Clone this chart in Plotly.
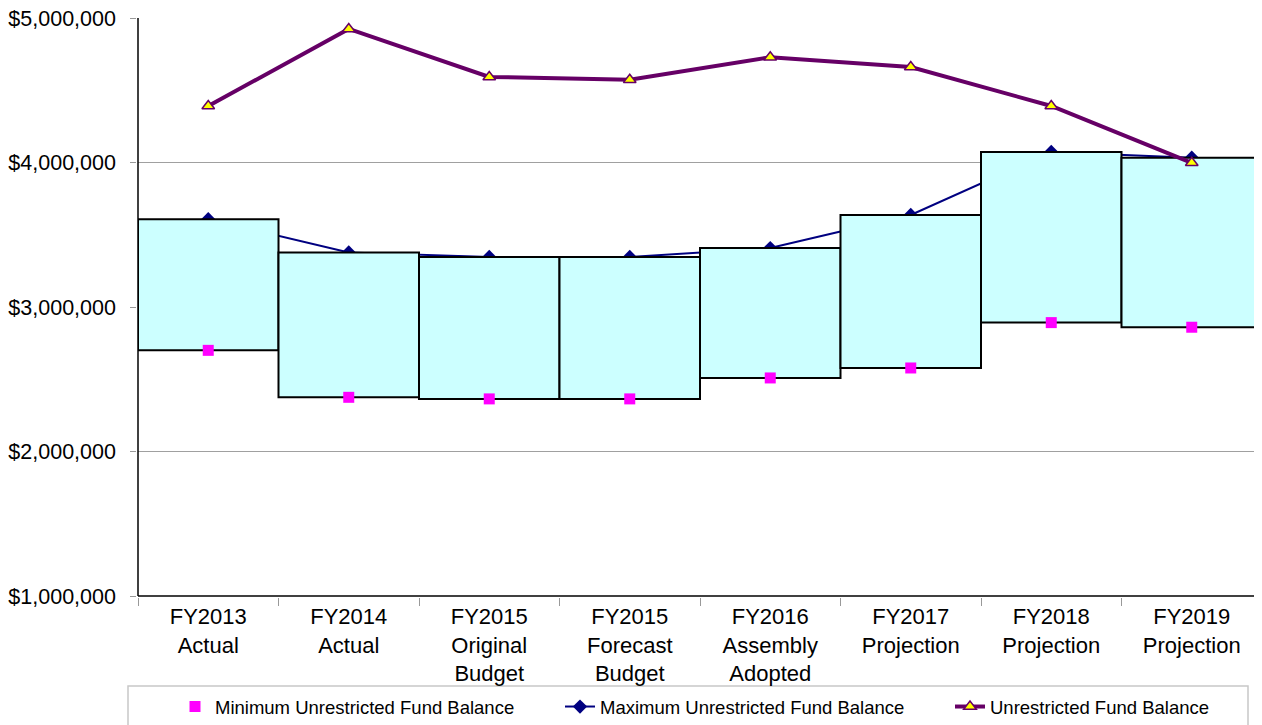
import plotly.graph_objects as go

categories = [
    "FY2013<br>Actual", "FY2014<br>Actual", "FY2015<br>Original<br>Budget",
    "FY2015<br>Forecast<br>Budget", "FY2016<br>Assembly<br>Adopted",
    "FY2017<br>Projection", "FY2018<br>Projection", "FY2019<br>Projection",
]
min_balance = [2700000, 2375000, 2364000, 2364000, 2509000, 2578000, 2892000, 2860000]
max_balance = [3608000, 3378000, 3346000, 3346000, 3408000, 3637000, 4073000, 4033000]
unrestricted = [4391000, 4924000, 4592000, 4573000, 4728000, 4661000, 4391000, 3998000]
y_ticks = [1000000, 2000000, 3000000, 4000000, 5000000]

font_main = "Liberation Sans, Arial, sans-serif"

fig = go.Figure()

fig.add_trace(go.Scatter(
    x=categories, y=max_balance, mode="lines+markers",
    name="Maximum Unrestricted Fund Balance",
    line=dict(color="#000080", width=2),
    marker=dict(symbol="diamond", size=11, color="#000080"),
    zorder=0, legend="legend2",
))

fig.add_trace(go.Bar(
    x=categories,
    y=[mx - mn for mx, mn in zip(max_balance, min_balance)],
    base=min_balance, width=1,
    marker=dict(color="#CCFFFF", line=dict(color="#000000", width=2)),
    showlegend=False, zorder=1,
))

fig.add_trace(go.Scatter(
    x=categories, y=min_balance, mode="markers",
    name="Minimum Unrestricted Fund Balance",
    marker=dict(symbol="square", size=11, color="#FF00FF"),
    zorder=2, legend="legend",
))

fig.add_trace(go.Scatter(
    x=categories, y=unrestricted, mode="lines+markers",
    name="Unrestricted Fund Balance",
    line=dict(color="#660066", width=4),
    marker=dict(symbol="triangle-up", size=11, color="#FFFF00",
                line=dict(color="#660066", width=1.5)),
    zorder=3, legend="legend3",
))

# page has an 8px body margin; figure sized to fill the rest of the window
OFF = 8
W, H = 1262 - OFF, 725 - OFF
plot_left, plot_top, plot_bottom, plot_right = 138, 18, 596, 1262
pw = plot_right - plot_left
ph = plot_bottom - plot_top

def px_x(x):
    return (x - plot_left) / pw

def px_y(y):
    return (plot_bottom - y) / ph

leg_common = dict(orientation="h", bgcolor="rgba(0,0,0,0)", borderwidth=0,
                  font=dict(family=font_main, size=18.5, color="#000000"),
                  xanchor="left", yanchor="middle", y=px_y(707))

fig.update_layout(
    width=W, height=H,
    margin=dict(l=plot_left - OFF, r=0, t=plot_top - OFF,
                b=725 - plot_bottom, autoexpand=False),
    paper_bgcolor="white", plot_bgcolor="white",
    font=dict(family=font_main, color="#000000"),
    barmode="overlay",
    showlegend=True,
    legend=dict(x=px_x(175), **leg_common),
    legend2=dict(x=px_x(560), **leg_common),
    legend3=dict(x=px_x(950), **leg_common),
    xaxis=dict(
        type="category", range=[-0.5, 7.5],
        showline=True, linecolor="#000000", linewidth=1.5,
        ticks="outside", tickson="boundaries", ticklen=8, tickcolor="#999999",
        tickfont=dict(size=22, family=font_main),
        showgrid=False, zeroline=False,
    ),
    yaxis=dict(
        range=[1000000, 5000000], tickvals=y_ticks, tickformat="$,.0f",
        showline=True, linecolor="#000000", linewidth=1.5,
        ticks="outside", ticklen=6, tickcolor="#999999",
        tickfont=dict(size=21.5, family=font_main),
        ticklabelstandoff=10, ticklabeloverflow="allow",
        showgrid=True, gridcolor="#A0A0A0", gridwidth=1, zeroline=False,
    ),
    shapes=[
        dict(type="rect", xref="paper", yref="paper",
             x0=px_x(128), x1=px_x(1248), y0=px_y(686), y1=px_y(740),
             line=dict(color="#C8C8C8", width=1.5), fillcolor="rgba(0,0,0,0)",
             layer="below"),
        dict(type="line", xref="paper", yref="paper", x0=0, x1=0, y0=0, y1=1,
             line=dict(color="#000000", width=1.5), layer="above"),
        dict(type="line", xref="paper", yref="paper", x0=0, x1=1, y0=0, y1=0,
             line=dict(color="#000000", width=1.5), layer="above"),
    ],
)

fig.write_html("out.html")
